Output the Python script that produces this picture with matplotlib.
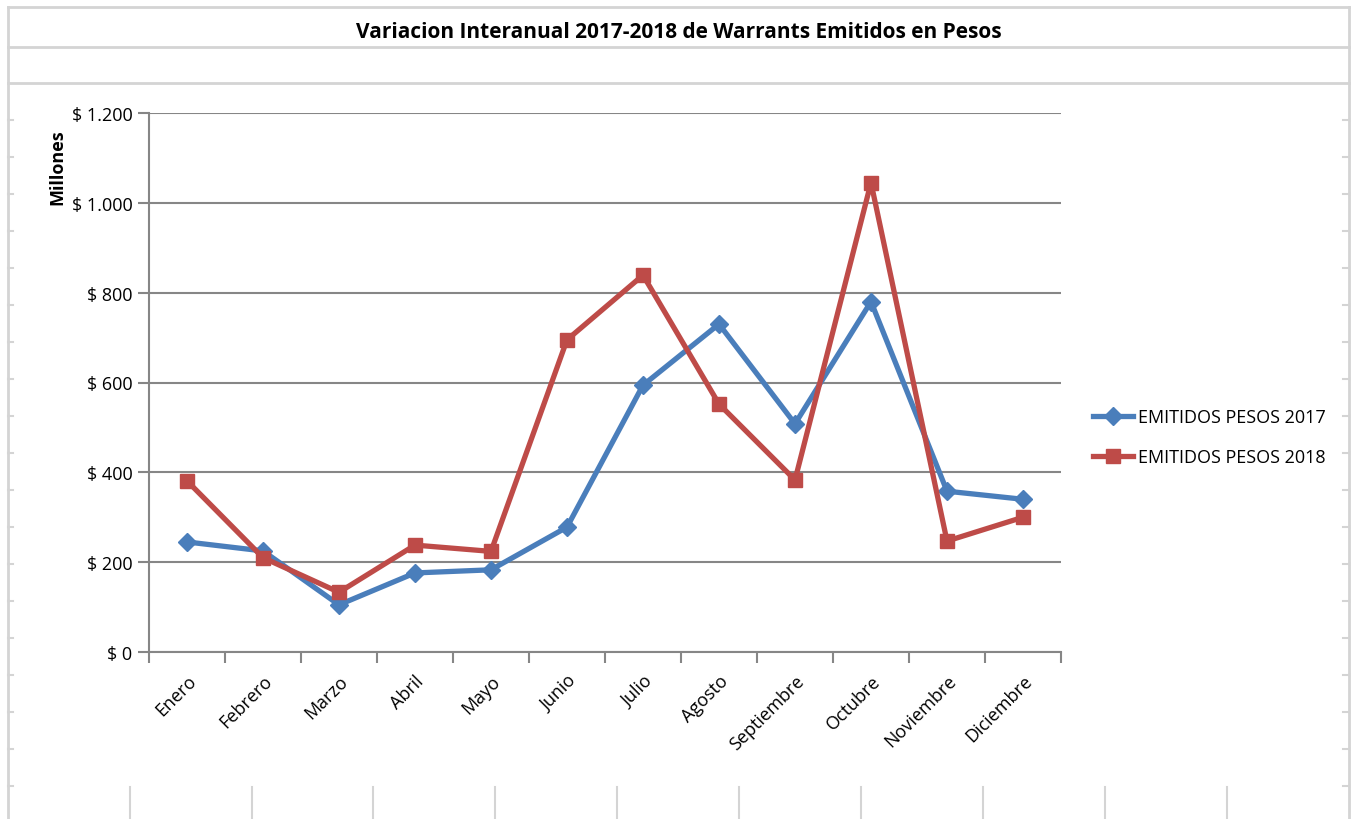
import matplotlib
matplotlib.use("Agg")
import matplotlib.pyplot as plt
from matplotlib.lines import Line2D
import numpy as np

# datos (millones de pesos)
meses = ['Enero', 'Febrero', 'Marzo', 'Abril', 'Mayo', 'Junio', 'Julio',
         'Agosto', 'Septiembre', 'Octubre', 'Noviembre', 'Diciembre']
pesos_2017 = [245, 225, 105, 176, 183, 278, 594, 730, 508, 780, 358, 340]
pesos_2018 = [381, 210, 133, 238, 224, 695, 839, 552, 383, 1045, 247, 300]
ticks_y = [0, 200, 400, 600, 800, 1000, 1200]
etiquetas_y = ['$ 0', '$ 200', '$ 400', '$ 600', '$ 800', '$ 1.000', '$ 1.200']

plt.rcParams['font.family'] = ['Open Sans', 'DejaVu Sans']

W, H = 1353, 820
fig = plt.figure(figsize=(W / 100, H / 100), dpi=100)
fig.patch.set_facecolor('white')

# lineas de la hoja de calculo detras del grafico
gris = '#d4d4d4'
def linea(x0, y0, x1, y1, lw=2):
    fig.add_artist(Line2D([x0 / W, x1 / W], [1 - y0 / H, 1 - y1 / H],
                          color=gris, lw=lw, zorder=0))

linea(8, 8, 1349, 8)
linea(8, 48, 1349, 48)
linea(8, 84, 1349, 84)
linea(8, 8, 8, 820)
linea(1349, 8, 1349, 820)
for xv in [130, 252, 373, 495, 617, 739, 861, 983, 1105, 1227]:
    linea(xv, 788, xv, 820, 1.5)
for yv in np.arange(121, 820, 37):
    linea(8, yv, 13, yv, 1.5)
    linea(1343, yv, 1349, yv, 1.5)

ax = fig.add_axes([149 / W, 1 - 653 / H, (1061 - 149) / W, (653 - 114) / H])
x = np.arange(len(meses))

azul = '#4a7ebb'
rojo = '#be4b48'
ax.plot(x, pesos_2017, color=azul, lw=3.8, marker='D', ms=9,
        label='EMITIDOS PESOS 2017', zorder=3)
ax.plot(x, pesos_2018, color=rojo, lw=3.8, marker='s', ms=10,
        label='EMITIDOS PESOS 2018', zorder=4)

ax.set_xlim(-0.5, len(meses) - 0.5)
ax.set_ylim(0, 1200)
ax.set_yticks(ticks_y)
ax.set_yticklabels(etiquetas_y, fontsize=13)
ax.yaxis.grid(True, color='#868686', lw=1.5)
ax.set_axisbelow(True)

ax.set_xticks(x)
ax.set_xticklabels(meses, rotation=45, ha='right', va='top',
                   rotation_mode='anchor', fontsize=13)
ax.set_xticks(np.arange(-0.5, len(meses)), minor=True)
ax.tick_params(axis='x', which='major', length=0, pad=14)
ax.tick_params(axis='x', which='minor', length=8, width=1.5, color='#868686')
ax.tick_params(axis='y', length=8, width=1.5, color='#868686', pad=4)

for s in ['top', 'right']:
    ax.spines[s].set_visible(False)
for s in ['left', 'bottom']:
    ax.spines[s].set_color('#868686')
    ax.spines[s].set_linewidth(1.5)

fig.text(679 / W, 1 - 32 / H,
         'Variacion Interanual 2017-2018 de Warrants Emitidos en Pesos',
         ha='center', va='center', fontsize=15, fontweight='bold')
fig.text(57 / W, 1 - 167 / H, 'Millones', rotation=90, ha='center',
         va='center', fontsize=13, fontweight='bold')

ax.legend(loc='center left', bbox_to_anchor=(1077 / W, 1 - 438 / H),
          bbox_transform=fig.transFigure, frameon=False, fontsize=13,
          handlelength=2.2, labelspacing=1.2, handletextpad=0.3)

fig.savefig('out.png', dpi=100)
